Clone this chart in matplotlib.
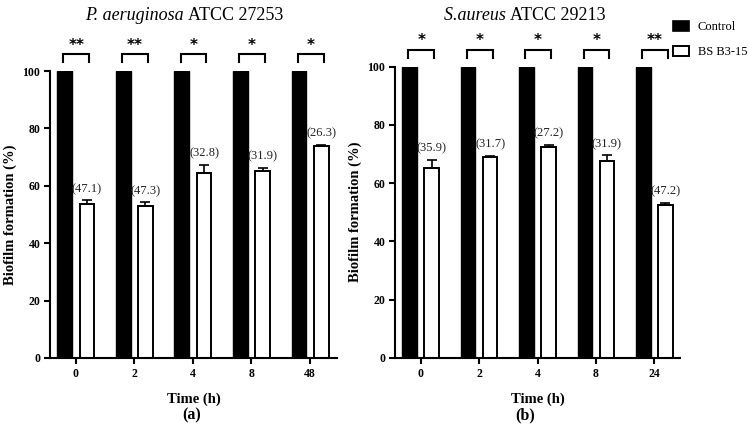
import matplotlib
matplotlib.use("Agg")
import matplotlib.pyplot as plt
from matplotlib.patches import Patch
import numpy as np

plt.rcParams['font.family'] = ['Liberation Serif', 'DejaVu Serif']

# Panel (a): P. aeruginosa ATCC 27253
times_a = ["0", "2", "4", "8", "48"]
control_a = [100, 100, 100, 100, 100]
bs_a = [53.6, 52.9, 64.5, 65.2, 73.8]
err_a = [1.3, 1.4, 2.9, 1.1, 0.5]
inhib_a = ["(47.1)", "(47.3)", "(32.8)", "(31.9)", "(26.3)"]
sig_a = ["**", "**", "*", "*", "*"]

# Panel (b): S. aureus ATCC 29213
times_b = ["0", "2", "4", "8", "24"]
control_b = [100, 100, 100, 100, 100]
bs_b = [65.3, 68.8, 72.5, 67.6, 52.5]
err_b = [2.7, 0.6, 0.7, 1.9, 0.7]
inhib_b = ["(35.9)", "(31.7)", "(27.2)", "(31.9)", "(47.2)"]
sig_b = ["*", "*", "*", "*", "**"]

fig = plt.figure(figsize=(7.49, 4.30), dpi=100)
ax_a = fig.add_axes([50/749, 1-358/430, (337-50)/749, (358-71)/430])
ax_b = fig.add_axes([395/749, 1-358/430, (680-395)/749, (358-66.5)/430])

W = 0.25
OFF = 0.19

def draw(ax, times, ctrl, bs, err, inhib, sig, xlim):
    x = np.arange(len(times))
    ax.bar(x - OFF, ctrl, width=W, color='black', edgecolor='black', linewidth=1.0, zorder=2)
    ax.bar(x + OFF, bs, width=W, color='white', edgecolor='black', linewidth=1.4, zorder=2)
    ax.errorbar(x + OFF, bs, yerr=[np.zeros(len(bs)), err], fmt='none', ecolor='black',
                elinewidth=1.2, capsize=3.5, capthick=1.2, zorder=3)
    for xi, b, e, t in zip(x, bs, err, inhib):
        ax.text(xi + OFF, b + e + 1.8, t, ha='center', va='bottom', fontsize=9, color='#222222')
    for xi, s in zip(x, sig):
        x0, x1 = xi - OFF - 0.02, xi + OFF + 0.04
        ax.plot([x0, x0, x1, x1], [103.0, 105.8, 105.8, 103.0], color='black', lw=1.5,
                clip_on=False, solid_joinstyle='miter')
        ax.text((x0 + x1) / 2, 106.3, s, ha='center', va='bottom', fontsize=11,
                fontweight='bold', family='DejaVu Sans', clip_on=False)
    ax.set_xlim(*xlim)
    ax.set_ylim(0, 100)
    ax.set_xticks(x)
    ax.set_xticklabels(times)
    ax.set_yticks([0, 20, 40, 60, 80, 100])
    for sp in ['top', 'right']:
        ax.spines[sp].set_visible(False)
    for sp in ['left', 'bottom']:
        ax.spines[sp].set_linewidth(1.5)
    ax.tick_params(axis='both', width=1.5, length=4, labelsize=8.5, pad=3)
    for lab in ax.get_xticklabels() + ax.get_yticklabels():
        lab.set_fontweight('bold')
    ax.set_ylabel("Biofilm formation (%)", fontsize=10.5, fontweight='bold', labelpad=4)
    ax.set_xlabel("Time (h)", fontsize=10.5, fontweight='bold', labelpad=9)

draw(ax_a, times_a, control_a, bs_a, err_a, inhib_a, sig_a, (-0.44, 4.46))
draw(ax_b, times_b, control_b, bs_b, err_b, inhib_b, sig_b, (-0.44, 4.44))

def title(xc, y, ital, rest):
    t1 = fig.text(0, 0, ital + " ", fontsize=13, style='italic')
    t2 = fig.text(0, 0, rest, fontsize=13)
    fig.canvas.draw()
    r = fig.canvas.get_renderer()
    w1 = t1.get_window_extent(r).width
    w2 = t2.get_window_extent(r).width
    tot = w1 + w2
    x0 = xc * 749 - tot / 2
    t1.set_position((x0 / 749, y))
    t2.set_position(((x0 + w1) / 749, y))
    t1.set_va('center'); t2.set_va('center')

title(184/749, 1-16/430, "P. aeruginosa", "ATCC 27253")
title(525/749, 1-15/430, "S.aureus", "ATCC 29213")

fig.text(192/749, 1-415/430, "(a)", ha='center', va='center', fontsize=11.5, fontweight='bold')
fig.text(525/749, 1-415/430, "(b)", ha='center', va='center', fontsize=11.5, fontweight='bold')

handles = [Patch(facecolor='black', edgecolor='black', linewidth=1.2),
           Patch(facecolor='white', edgecolor='black', linewidth=1.4)]
fig.legend(handles, ["Control", "BS B3-15"], loc='upper left',
           bbox_to_anchor=(673/749, 1-21/430), frameon=False, fontsize=9,
           borderpad=0, borderaxespad=0,
           handlelength=1.25, handleheight=0.8, handletextpad=0.75, labelspacing=1.05)

fig.savefig("out.png", dpi=100)
